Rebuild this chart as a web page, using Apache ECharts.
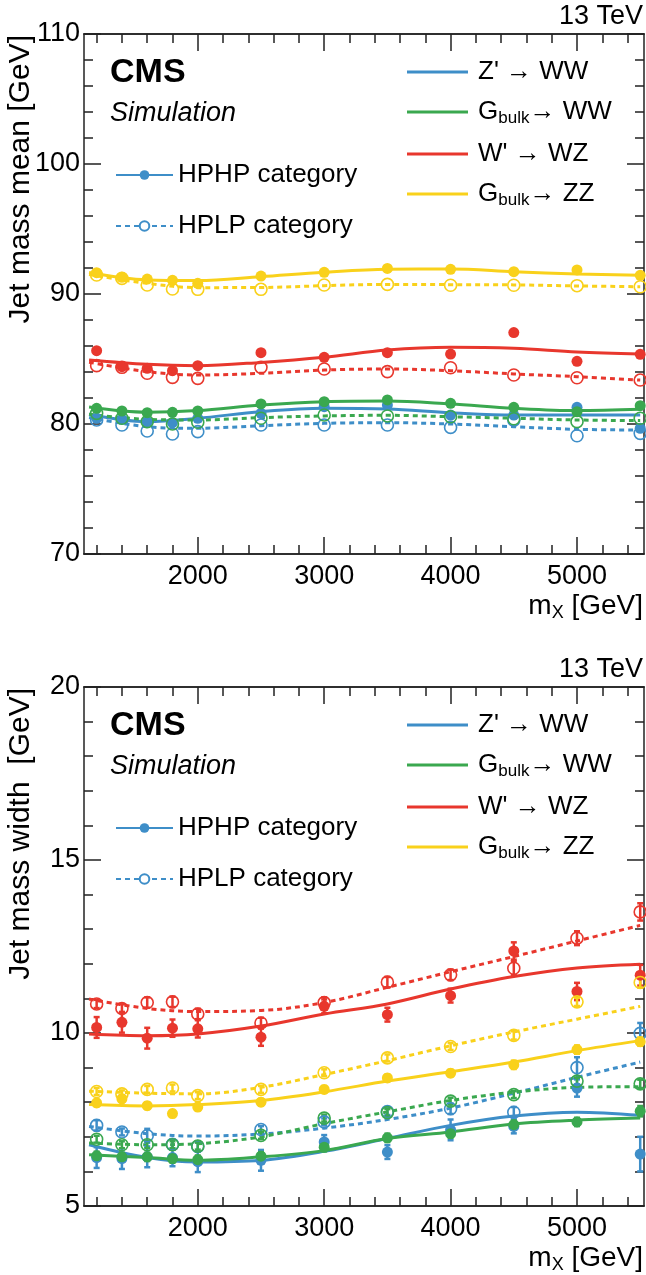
<!DOCTYPE html>
<html>
<head>
<meta charset="utf-8">
<script src="https://cdn.jsdelivr.net/npm/echarts@6/dist/echarts.min.js"></script>
<style>
html, body { margin: 0; padding: 0; background: #fff; }
#chart { width: 646px; height: 1275px; }
</style>
</head>
<body>
<div id="chart"></div>
<script>
// ---- data ----
const masses = [1200, 1400, 1600, 1800, 2000, 2500, 3000, 3500, 4000, 4500, 5000, 5500];
const fitMasses = [1140, 1600, 2000, 2500, 3000, 3500, 4000, 4500, 5000, 5500];
const xLabelTicks = [2000, 3000, 4000, 5000];
const xMinorTicks = [1200, 1400, 1600, 1800, 2000, 2200, 2400, 2600, 2800, 3000, 3200, 3400, 3600, 3800, 4000, 4200, 4400, 4600, 4800, 5000, 5200, 5400];
const processNames = ["Z' → WW", 'Gbulk→ WW', "W' → WZ", 'Gbulk→ ZZ'];
const categoryNames = ['HPHP category', 'HPLP category'];

// jet mass mean [GeV]
const meanZWW_HPHP = [80.44, 80.36, 80.18, 80.1, 80.44, 80.82, 81.33, 81.46, 80.69, 80.69, 81.28, 79.67];
const meanZWW_HPLP = [80.31, 79.92, 79.46, 79.23, 79.41, 79.92, 79.92, 79.92, 79.74, 80.3, 79.1, 79.28];
const meanGWW_HPHP = [81.21, 81.0, 80.87, 80.9, 81.0, 81.54, 81.72, 81.85, 81.59, 81.28, 80.95, 81.41];
const meanGWW_HPLP = [80.82, 80.44, 80.18, 80.0, 80.13, 80.44, 80.69, 80.62, 80.56, 80.4, 80.18, 80.44];
const meanWWZ_HPHP = [85.64, 84.41, 84.28, 84.1, 84.49, 85.49, 85.13, 85.49, 85.38, 87.03, 84.82, 85.36];
const meanWWZ_HPLP = [84.49, 84.36, 83.9, 83.59, 83.51, 84.36, 84.23, 84.03, 84.33, 83.77, 83.56, 83.38];
const meanGZZ_HPHP = [91.64, 91.28, 91.15, 91.05, 90.82, 91.38, 91.67, 91.97, 91.9, 91.72, 91.85, 91.44];
const meanGZZ_HPLP = [91.46, 91.2, 90.69, 90.38, 90.36, 90.36, 90.69, 90.74, 90.67, 90.67, 90.64, 90.56];

const meanFitZWW_HPHP = [80.75, 80.18, 80.44, 80.95, 81.21, 81.15, 80.87, 80.69, 80.69, 80.69];
const meanFitZWW_HPLP = [80.5, 79.79, 79.67, 79.87, 80.05, 80.1, 80.0, 79.79, 79.59, 79.54];
const meanFitGWW_HPHP = [81.3, 80.9, 81.03, 81.46, 81.72, 81.77, 81.54, 81.21, 81.03, 81.13];
const meanFitGWW_HPLP = [80.75, 80.36, 80.31, 80.49, 80.62, 80.67, 80.56, 80.44, 80.31, 80.26];
const meanFitWWZ_HPHP = [84.92, 84.59, 84.49, 84.74, 85.13, 85.69, 85.9, 85.82, 85.54, 85.38];
const meanFitWWZ_HPLP = [84.75, 84.03, 83.77, 83.9, 84.15, 84.23, 84.1, 83.85, 83.64, 83.38];
const meanFitGZZ_HPHP = [91.65, 91.08, 91.03, 91.33, 91.67, 91.9, 91.92, 91.72, 91.54, 91.44];
const meanFitGZZ_HPLP = [91.5, 90.82, 90.49, 90.5, 90.64, 90.74, 90.72, 90.7, 90.62, 90.56];

// jet mass width [GeV]
const widthZWW_HPHP = [6.4, 6.37, 6.42, 6.4, 6.28, 6.32, 6.85, 6.56, 7.2, 7.3, 8.41, 6.5];
const widthZWW_HPLP = [7.33, 7.14, 7.03, 6.78, 6.72, 7.21, 7.43, 7.73, 7.81, 7.71, 9.0, 9.99];
const widthGWW_HPHP = [6.45, 6.42, 6.42, 6.37, 6.34, 6.44, 6.7, 6.97, 7.09, 7.35, 7.43, 7.74];
const widthGWW_HPLP = [6.93, 6.77, 6.77, 6.77, 6.73, 7.04, 7.54, 7.7, 8.03, 8.22, 8.61, 8.53];
const widthWWZ_HPHP = [10.16, 10.31, 9.85, 10.14, 10.12, 9.88, 10.77, 10.53, 11.08, 12.37, 11.2, 11.67];
const widthWWZ_HPLP = [10.84, 10.71, 10.88, 10.9, 10.55, 10.29, 10.88, 11.47, 11.68, 11.87, 12.74, 13.5];
const widthGZZ_HPHP = [7.98, 8.1, 7.9, 7.67, 7.86, 8.0, 8.37, 8.7, 8.84, 9.08, 9.52, 9.75];
const widthGZZ_HPLP = [8.31, 8.24, 8.37, 8.41, 8.19, 8.37, 8.85, 9.28, 9.61, 9.93, 10.9, 11.46];

const widthErrZWW_HPHP = [0.3, 0.3, 0.3, 0.25, 0.3, 0.3, 0.2, 0.2, 0.3, 0.2, 0.25, 0.5];
const widthErrZWW_HPLP = [0.15, 0.1, 0.2, 0.15, 0.15, 0.1, 0.1, 0.1, 0.15, 0.15, 0.3, 0.3];
const widthErrGWW_HPHP = [0.12, 0.12, 0.12, 0.12, 0.12, 0.12, 0.12, 0.12, 0.12, 0.12, 0.12, 0.15];
const widthErrGWW_HPLP = [0.1, 0.1, 0.1, 0.1, 0.1, 0.1, 0.1, 0.1, 0.1, 0.1, 0.1, 0.12];
const widthErrWWZ_HPHP = [0.3, 0.3, 0.3, 0.25, 0.25, 0.25, 0.2, 0.2, 0.2, 0.25, 0.25, 0.3];
const widthErrWWZ_HPLP = [0.12, 0.12, 0.15, 0.15, 0.15, 0.15, 0.15, 0.15, 0.15, 0.2, 0.2, 0.25];
const widthErrGZZ_HPHP = [0.1, 0.1, 0.1, 0.1, 0.1, 0.1, 0.1, 0.1, 0.1, 0.12, 0.12, 0.12];
const widthErrGZZ_HPLP = [0.1, 0.1, 0.1, 0.1, 0.1, 0.1, 0.1, 0.1, 0.1, 0.12, 0.12, 0.15];

const widthFitZWW_HPHP = [6.77, 6.4, 6.27, 6.32, 6.58, 6.95, 7.33, 7.6, 7.71, 7.62];
const widthFitZWW_HPLP = [7.3, 7.09, 7.02, 7.08, 7.25, 7.5, 7.83, 8.26, 8.72, 9.16];
const widthFitGWW_HPHP = [6.48, 6.4, 6.32, 6.42, 6.6, 6.95, 7.14, 7.37, 7.48, 7.54];
const widthFitGWW_HPLP = [6.82, 6.77, 6.8, 7.0, 7.38, 7.72, 8.05, 8.29, 8.43, 8.45];
const widthFitWWZ_HPHP = [9.97, 9.92, 9.97, 10.2, 10.55, 10.84, 11.27, 11.63, 11.88, 11.99];
const widthFitWWZ_HPLP = [10.98, 10.71, 10.62, 10.65, 10.88, 11.32, 11.77, 12.21, 12.66, 13.11];
const widthFitGZZ_HPHP = [7.93, 7.89, 7.93, 8.05, 8.3, 8.61, 8.88, 9.16, 9.49, 9.78];
const widthFitGZZ_HPLP = [8.32, 8.26, 8.24, 8.43, 8.8, 9.2, 9.63, 10.03, 10.4, 10.77];

// ---- styling ----
const FONT = 'Liberation Sans, Arial, Helvetica, sans-serif';
const colors = ['#3e8ec8', '#3aa84f', '#e8372d', '#f9d11b'];
const AXIS_COLOR = '#222';

const chart = echarts.init(document.getElementById('chart'));

const zip = (xs, ys, es) => xs.map((x, i) => es ? [x, ys[i], es[i]] : [x, ys[i]]);

const panels = [
  {
    top: 34, height: 520, min: 70, max: 110, interval: 10,
    points: [[meanZWW_HPHP, meanZWW_HPLP], [meanGWW_HPHP, meanGWW_HPLP], [meanWWZ_HPHP, meanWWZ_HPLP], [meanGZZ_HPHP, meanGZZ_HPLP]],
    fits: [[meanFitZWW_HPHP, meanFitZWW_HPLP], [meanFitGWW_HPHP, meanFitGWW_HPLP], [meanFitWWZ_HPHP, meanFitWWZ_HPLP], [meanFitGZZ_HPHP, meanFitGZZ_HPLP]],
    errs: null,
    yTitle: 'Jet mass mean [GeV]'
  },
  {
    top: 687, height: 519, min: 5, max: 20, interval: 5,
    points: [[widthZWW_HPHP, widthZWW_HPLP], [widthGWW_HPHP, widthGWW_HPLP], [widthWWZ_HPHP, widthWWZ_HPLP], [widthGZZ_HPHP, widthGZZ_HPLP]],
    fits: [[widthFitZWW_HPHP, widthFitZWW_HPLP], [widthFitGWW_HPHP, widthFitGWW_HPLP], [widthFitWWZ_HPHP, widthFitWWZ_HPLP], [widthFitGZZ_HPHP, widthFitGZZ_HPLP]],
    errs: [[widthErrZWW_HPHP, widthErrZWW_HPLP], [widthErrGWW_HPHP, widthErrGWW_HPLP], [widthErrWWZ_HPHP, widthErrWWZ_HPLP], [widthErrGZZ_HPHP, widthErrGZZ_HPLP]],
    yTitle: 'Jet mass width  [GeV]'
  }
];

const grids = [], xAxes = [], yAxes = [], series = [], legends = [], graphics = [];

const tickLine = { color: AXIS_COLOR, width: 1.5 };

// vertical error bar with small end caps
const renderErr = color => (params, api) => {
  const x = api.value(0), y = api.value(1), e = api.value(2);
  const a = api.coord([x, y + e]);
  const b = api.coord([x, y - e]);
  const st = { stroke: color, lineWidth: 2.5 };
  return {
    type: 'group',
    children: [
      { type: 'line', shape: { x1: a[0], y1: a[1], x2: b[0], y2: b[1] }, style: st },
      { type: 'line', shape: { x1: a[0] - 3, y1: a[1], x2: a[0] + 3, y2: a[1] }, style: st },
      { type: 'line', shape: { x1: b[0] - 3, y1: b[1], x2: b[0] + 3, y2: b[1] }, style: st }
    ]
  };
};

panels.forEach((p, g) => {
  grids.push({ left: 84, right: 2, top: p.top, height: p.height });

  const xBase = {
    gridIndex: g, type: 'value', min: 1100, max: 5530,
    splitLine: { show: false },
    axisLine: { onZero: false, lineStyle: tickLine }
  };
  const xi = xAxes.length;
  xAxes.push(
    { ...xBase, position: 'bottom',
      axisLabel: { customValues: xLabelTicks, fontSize: 27, color: '#000', fontFamily: FONT, margin: 9,
                   formatter: v => String(v) },
      axisTick: { inside: true, length: 17, customValues: xLabelTicks, lineStyle: tickLine } },
    { ...xBase, position: 'bottom', axisLabel: { show: false },
      axisTick: { inside: true, length: 9, customValues: xMinorTicks, lineStyle: tickLine } },
    { ...xBase, position: 'top', axisLabel: { show: false },
      axisTick: { inside: true, length: 17, customValues: xLabelTicks, lineStyle: tickLine } },
    { ...xBase, position: 'top', axisLabel: { show: false },
      axisTick: { inside: true, length: 9, customValues: xMinorTicks, lineStyle: tickLine } }
  );

  const yBase = {
    gridIndex: g, type: 'value', min: p.min, max: p.max, interval: p.interval,
    splitLine: { show: false },
    axisLine: { show: true, onZero: false, lineStyle: tickLine },
    axisTick: { inside: true, length: 17, lineStyle: tickLine },
    minorTick: { show: true, splitNumber: 5, length: 9, lineStyle: tickLine }
  };
  const yi = yAxes.length;
  yAxes.push(
    { ...yBase, position: 'left',
      axisLabel: { fontSize: 27, color: '#000', fontFamily: FONT, margin: 4 } },
    { ...yBase, position: 'right', axisLabel: { show: false } }
  );

  // fit curves
  p.fits.forEach((pair, k) => {
    pair.forEach((vals, c) => {
      series.push({
        type: 'line', xAxisIndex: xi, yAxisIndex: yi, data: zip(fitMasses, vals),
        smooth: 0.35, showSymbol: false, silent: true, z: 2,
        lineStyle: { color: colors[k], width: 3, type: c === 0 ? 'solid' : [5, 4] }
      });
    });
  });

  // error bars
  if (p.errs) {
    p.errs.forEach((pair, k) => {
      pair.forEach((errs, c) => {
        series.push({
          type: 'custom', xAxisIndex: xi, yAxisIndex: yi, z: 3,
          data: zip(masses, p.points[k][c], errs),
          encode: { x: 0, y: 1 },
          renderItem: renderErr(colors[k])
        });
      });
    });
  }

  // points: filled = HPHP, open = HPLP
  p.points.forEach((pair, k) => {
    series.push({
      type: 'scatter', xAxisIndex: xi, yAxisIndex: yi, z: 4,
      data: zip(masses, pair[0]), symbol: 'circle', symbolSize: 11,
      itemStyle: { color: colors[k], opacity: 1 }
    });
    series.push({
      type: 'scatter', xAxisIndex: xi, yAxisIndex: yi, z: 4,
      data: zip(masses, pair[1]), symbol: 'circle', symbolSize: 12,
      itemStyle: { color: 'rgba(255,255,255,0)', borderColor: colors[k], borderWidth: 1.6, opacity: 1 }
    });
  });

  // legends
  const rich = {
    n: { fontSize: 26, lineHeight: 30, fontFamily: FONT, color: '#000' },
    s: { fontSize: 17, lineHeight: 17, fontFamily: FONT, color: '#000', verticalAlign: 'bottom' }
  };
  legends.push({
    orient: 'vertical', left: 402, top: p.top + 35 - 15,
    itemWidth: 61, itemHeight: 3, itemGap: 14, selectedMode: false,
    data: processNames.map(name => ({ name: name, icon: 'rect' })),
    textStyle: { rich, padding: [0, 0, 0, 5] },
    formatter: name => name.startsWith('Gbulk')
      ? '{n|G}{s|bulk}{n|' + name.slice(5) + '}'
      : '{n|' + name + '}'
  });
  legends.push({
    orient: 'vertical', left: 110, top: p.top + 138 - 15,
    itemWidth: 57, itemHeight: 12, itemGap: 25, selectedMode: false,
    data: categoryNames,
    textStyle: { rich },
    formatter: name => '{n|' + name + '}'
  });

  // labels
  graphics.push(
    { type: 'text', right: 3, top: p.top - 31,
      style: { text: '13 TeV', font: '27px ' + FONT, fill: '#000' } },
    { type: 'text', left: 110, top: p.top + 22,
      style: { text: 'CMS', font: 'bold 34px ' + FONT, fill: '#000' } },
    { type: 'text', left: 110, top: p.top + 66,
      style: { text: 'Simulation', font: 'italic 27px ' + FONT, fill: '#000' } },
    { type: 'text', x: 21, y: p.top + 1, rotation: Math.PI / 2,
      style: { text: p.yTitle, font: '30px ' + FONT, fill: '#000', align: 'right', verticalAlign: 'middle' } },
    { type: 'text', x: 643, y: p.top + p.height + 52,
      style: {
        text: '{n|m}{s|X}{n| [GeV]}', align: 'right', verticalAlign: 'middle',
        rich: {
          n: { fontSize: 28, lineHeight: 32, fontFamily: FONT, fill: '#000' },
          s: { fontSize: 18, lineHeight: 18, fontFamily: FONT, fill: '#000', verticalAlign: 'bottom' }
        }
      } }
  );
});

// legend entries (no data)
colors.forEach((c, k) => {
  series.push({
    name: processNames[k], type: 'line', data: [], xAxisIndex: 0, yAxisIndex: 0,
    symbol: 'none', itemStyle: { color: c }, lineStyle: { color: c, width: 3 }
  });
});
series.push({
  name: categoryNames[0], type: 'line', data: [], xAxisIndex: 0, yAxisIndex: 0,
  symbol: 'circle', symbolSize: 11, itemStyle: { color: colors[0] },
  lineStyle: { color: colors[0], width: 3 }
});
series.push({
  name: categoryNames[1], type: 'line', data: [], xAxisIndex: 0, yAxisIndex: 0,
  symbol: 'circle', symbolSize: 12,
  itemStyle: { color: '#fff', borderColor: colors[0], borderWidth: 1.6 },
  lineStyle: { color: colors[0], width: 3, type: [5, 4] }
});

chart.setOption({
  animation: false,
  backgroundColor: '#fff',
  textStyle: { fontFamily: FONT },
  grid: grids,
  xAxis: xAxes,
  yAxis: yAxes,
  legend: legends,
  graphic: graphics,
  series: series
});

window.addEventListener('resize', function () {
  chart.resize();
});
</script>
</body>
</html>
